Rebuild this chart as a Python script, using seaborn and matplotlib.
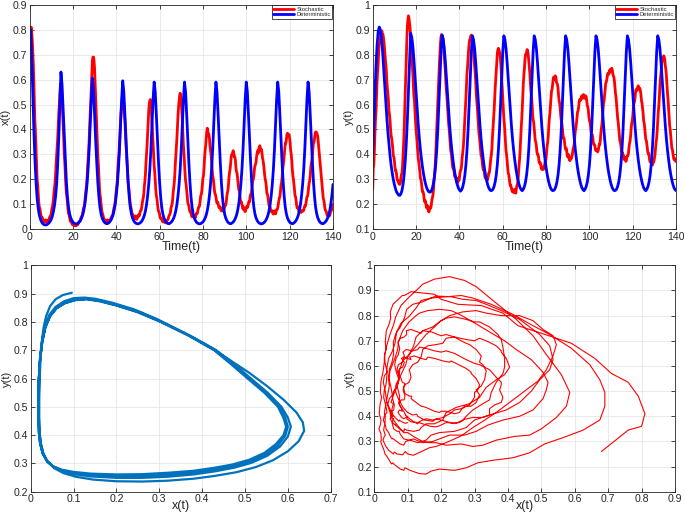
import numpy as np
import pandas as pd
import matplotlib
matplotlib.use("Agg")
import matplotlib.pyplot as plt
import seaborn as sns
from matplotlib.ticker import MultipleLocator, FuncFormatter

# time grids
t_det = np.arange(0, 140.5, 0.5)
t_sto = np.arange(0, 140.25, 0.25)

# deterministic x(t), y(t) (step 0.5)
x_det = [
    0.80, 0.80, 0.70, 0.55, 0.40, 0.28, 0.19, 0.125, 0.085, 0.058, 0.042, 0.031, 0.024, 0.02, 0.018,
    0.018, 0.019, 0.022, 0.026, 0.032, 0.04, 0.052, 0.07, 0.095, 0.13, 0.18, 0.26, 0.37, 0.50,
    0.63, 0.58, 0.48, 0.37, 0.275, 0.19, 0.13, 0.088, 0.062, 0.046, 0.036, 0.029, 0.025, 0.023, 0.022,
    0.023, 0.026, 0.03, 0.036, 0.045, 0.057, 0.075, 0.10, 0.135, 0.18, 0.24, 0.32, 0.42, 0.52,
    0.605, 0.56, 0.465, 0.36, 0.27, 0.19, 0.13, 0.088, 0.062, 0.046, 0.036, 0.029, 0.025, 0.023,
    0.023, 0.026, 0.03, 0.036, 0.045, 0.057, 0.075, 0.10, 0.135, 0.18, 0.24, 0.32, 0.42, 0.52,
    0.595, 0.55, 0.46, 0.36, 0.27, 0.19, 0.13, 0.088, 0.062, 0.046, 0.036, 0.029, 0.025, 0.023, 0.022,
    0.023, 0.026, 0.03, 0.036, 0.045, 0.057, 0.075, 0.10, 0.135, 0.18, 0.24, 0.32, 0.42, 0.52,
    0.59, 0.55, 0.46, 0.36, 0.27, 0.19, 0.13, 0.088, 0.062, 0.046, 0.036, 0.029, 0.025, 0.023,
    0.023, 0.026, 0.03, 0.036, 0.045, 0.057, 0.075, 0.10, 0.135, 0.18, 0.24, 0.32, 0.42, 0.52,
    0.59, 0.55, 0.46, 0.36, 0.27, 0.19, 0.13, 0.088, 0.062, 0.046, 0.036, 0.029, 0.025, 0.023, 0.022,
    0.023, 0.026, 0.03, 0.036, 0.045, 0.057, 0.075, 0.10, 0.135, 0.18, 0.24, 0.32, 0.42, 0.52,
    0.59, 0.55, 0.46, 0.36, 0.27, 0.19, 0.13, 0.088, 0.062, 0.046, 0.036, 0.029, 0.025, 0.023,
    0.023, 0.026, 0.03, 0.036, 0.045, 0.057, 0.075, 0.10, 0.135, 0.18, 0.24, 0.32, 0.42, 0.52,
    0.59, 0.55, 0.46, 0.36, 0.27, 0.19, 0.13, 0.088, 0.062, 0.046, 0.036, 0.029, 0.025, 0.023, 0.022,
    0.023, 0.026, 0.03, 0.036, 0.045, 0.057, 0.075, 0.10, 0.135, 0.18, 0.24, 0.32, 0.42, 0.52,
    0.59, 0.55, 0.46, 0.36, 0.27, 0.19, 0.13, 0.088, 0.062, 0.046, 0.036, 0.029, 0.025, 0.023,
    0.023, 0.026, 0.03, 0.036, 0.045, 0.057, 0.075, 0.10, 0.135, 0.18, 0.24, 0.32, 0.42, 0.52,
    0.59, 0.55, 0.46, 0.36, 0.27, 0.19, 0.13, 0.088, 0.062, 0.046, 0.036, 0.029, 0.025, 0.023,
    0.023, 0.026, 0.03, 0.036, 0.045, 0.057, 0.075, 0.10, 0.135, 0.18,
]
y_det = [
    0.40, 0.52, 0.64, 0.75, 0.835, 0.89, 0.91, 0.90, 0.87, 0.82, 0.755, 0.685, 0.615, 0.55, 0.49,
    0.44, 0.395, 0.357, 0.326, 0.30, 0.28, 0.263, 0.25, 0.243, 0.237, 0.236, 0.242, 0.256, 0.28,
    0.318, 0.372, 0.445, 0.54, 0.65, 0.77,
    0.885, 0.87, 0.835, 0.78, 0.715, 0.648, 0.582, 0.52, 0.466, 0.42, 0.381, 0.347, 0.319, 0.296,
    0.278, 0.264, 0.255, 0.25, 0.249, 0.253, 0.264, 0.283, 0.311, 0.353, 0.413, 0.493, 0.595, 0.705, 0.805,
    0.878, 0.862, 0.827, 0.772, 0.707, 0.641, 0.576, 0.516, 0.463, 0.418, 0.38, 0.347, 0.32, 0.297,
    0.28, 0.266, 0.258, 0.253, 0.258, 0.269, 0.288, 0.316, 0.358, 0.418, 0.498, 0.598, 0.708, 0.808,
    0.875, 0.86, 0.825, 0.77, 0.705, 0.64, 0.575, 0.515, 0.462, 0.418, 0.38, 0.347, 0.32, 0.298,
    0.28, 0.267, 0.259, 0.255, 0.256, 0.261, 0.272, 0.29, 0.318, 0.36, 0.42, 0.50, 0.60, 0.71, 0.81,
    0.875, 0.86, 0.825, 0.77, 0.705, 0.64, 0.575, 0.515, 0.462, 0.418, 0.38, 0.347, 0.32, 0.298,
    0.28, 0.267, 0.259, 0.255, 0.261, 0.272, 0.29, 0.318, 0.36, 0.42, 0.50, 0.60, 0.71, 0.81,
    0.875, 0.86, 0.825, 0.77, 0.705, 0.64, 0.575, 0.515, 0.462, 0.418, 0.38, 0.347, 0.32, 0.298,
    0.28, 0.267, 0.259, 0.255, 0.256, 0.261, 0.272, 0.29, 0.318, 0.36, 0.42, 0.50, 0.60, 0.71, 0.81,
    0.875, 0.86, 0.825, 0.77, 0.705, 0.64, 0.575, 0.515, 0.462, 0.418, 0.38, 0.347, 0.32, 0.298,
    0.28, 0.267, 0.259, 0.255, 0.261, 0.272, 0.29, 0.318, 0.36, 0.42, 0.50, 0.60, 0.71, 0.81,
    0.875, 0.86, 0.825, 0.77, 0.705, 0.64, 0.575, 0.515, 0.462, 0.418, 0.38, 0.347, 0.32, 0.298,
    0.28, 0.267, 0.259, 0.255, 0.256, 0.261, 0.272, 0.29, 0.318, 0.36, 0.42, 0.50, 0.60, 0.71, 0.81,
    0.875, 0.86, 0.825, 0.77, 0.705, 0.64, 0.575, 0.515, 0.462, 0.418, 0.38, 0.347, 0.32, 0.298,
    0.28, 0.267, 0.259, 0.255, 0.261, 0.272, 0.29, 0.318, 0.36, 0.42, 0.50, 0.60, 0.71, 0.81,
    0.875, 0.86, 0.825, 0.77, 0.705, 0.64, 0.575, 0.515, 0.462, 0.418, 0.38, 0.347, 0.32, 0.298,
    0.28, 0.267, 0.259, 0.255,
]

# stochastic x(t), y(t) (step 0.25)
x_sto = [
    0.68, 0.76, 0.80, 0.81, 0.79, 0.76, 0.71, 0.66, 0.59, 0.50, 0.43, 0.385, 0.32, 0.25, 0.20, 0.18, 0.145, 0.11, 0.09, 0.084,
    0.072, 0.056, 0.048, 0.049, 0.044, 0.036, 0.033, 0.035, 0.031, 0.032, 0.038, 0.03, 0.027, 0.033, 0.035, 0.036, 0.041, 0.048, 0.052, 0.055,
    0.063, 0.078, 0.088, 0.1, 0.117, 0.144, 0.165, 0.185, 0.215, 0.26, 0.295, 0.325, 0.365, 0.42, 0.465, 0.5, 0.545, 0.575, 0.585, 0.56,
    0.515, 0.475, 0.425, 0.36, 0.305, 0.27, 0.225, 0.18, 0.145, 0.13, 0.105, 0.08, 0.064, 0.058, 0.047, 0.036, 0.03, 0.03, 0.026, 0.02,
    0.018, 0.022, 0.017, 0.015, 0.02, 0.019, 0.014, 0.02, 0.021, 0.019, 0.023, 0.029, 0.032, 0.032, 0.038, 0.047, 0.052, 0.055, 0.063, 0.078,
    0.088, 0.092, 0.107, 0.135, 0.155, 0.17, 0.195, 0.24, 0.275, 0.31, 0.355, 0.415, 0.465, 0.51, 0.565, 0.625, 0.675, 0.69, 0.69, 0.675,
    0.645, 0.59, 0.525, 0.475, 0.415, 0.35, 0.295, 0.26, 0.215, 0.17, 0.14, 0.125, 0.103, 0.08, 0.067, 0.062, 0.053, 0.043, 0.038, 0.038,
    0.035, 0.03, 0.028, 0.035, 0.038, 0.031, 0.027, 0.034, 0.036, 0.038, 0.043, 0.05, 0.053, 0.055, 0.062, 0.077, 0.088, 0.094, 0.107, 0.13,
    0.155, 0.17, 0.195, 0.24, 0.275, 0.3, 0.345, 0.395, 0.435, 0.47, 0.495, 0.525, 0.535, 0.525, 0.495, 0.47, 0.435, 0.38, 0.335, 0.305,
    0.265, 0.23, 0.185, 0.17, 0.145, 0.115, 0.097, 0.09, 0.078, 0.065, 0.057, 0.058, 0.053, 0.046, 0.043, 0.05, 0.054, 0.045, 0.04, 0.047,
    0.05, 0.058, 0.053, 0.058, 0.068, 0.075, 0.077, 0.088, 0.104, 0.118, 0.126, 0.145, 0.175, 0.195, 0.225, 0.27, 0.305, 0.34, 0.385, 0.435,
    0.475, 0.505, 0.515, 0.52, 0.505, 0.47, 0.425, 0.39, 0.345, 0.295, 0.255, 0.23, 0.195, 0.16, 0.135, 0.125, 0.104, 0.085, 0.072, 0.07,
    0.06, 0.047, 0.043, 0.045, 0.04, 0.034, 0.03, 0.033, 0.032, 0.028, 0.033, 0.03, 0.026, 0.033, 0.037, 0.038, 0.043, 0.052, 0.057, 0.06,
    0.068, 0.085, 0.093, 0.1, 0.117, 0.145, 0.165, 0.185, 0.215, 0.26, 0.295, 0.325, 0.365, 0.415, 0.455, 0.49, 0.515, 0.535, 0.545, 0.535,
    0.505, 0.475, 0.435, 0.38, 0.335, 0.305, 0.265, 0.225, 0.195, 0.18, 0.155, 0.13, 0.11, 0.1, 0.094, 0.08, 0.071, 0.07, 0.064, 0.055,
    0.05, 0.057, 0.054, 0.05, 0.056, 0.053, 0.047, 0.058, 0.064, 0.062, 0.067, 0.08, 0.089, 0.09, 0.097, 0.118, 0.135, 0.14, 0.155, 0.18,
    0.205, 0.215, 0.245, 0.285, 0.315, 0.335, 0.365, 0.39, 0.405, 0.395, 0.38, 0.38, 0.365, 0.335, 0.315, 0.3, 0.275, 0.24, 0.215, 0.205,
    0.185, 0.16, 0.145, 0.14, 0.13, 0.115, 0.105, 0.11, 0.104, 0.092, 0.086, 0.092, 0.089, 0.08, 0.074, 0.082, 0.084, 0.075, 0.071, 0.082,
    0.089, 0.1, 0.097, 0.11, 0.13, 0.145, 0.155, 0.175, 0.205, 0.226, 0.24, 0.26, 0.285, 0.3, 0.3, 0.31, 0.315, 0.305, 0.29, 0.29,
    0.275, 0.245, 0.23, 0.225, 0.205, 0.18, 0.16, 0.155, 0.14, 0.12, 0.106, 0.11, 0.099, 0.088, 0.081, 0.09, 0.085, 0.076, 0.071, 0.08,
    0.084, 0.092, 0.087, 0.092, 0.105, 0.112, 0.11, 0.13, 0.14, 0.142, 0.155, 0.18, 0.195, 0.2, 0.215, 0.24, 0.255, 0.26, 0.27, 0.29,
    0.305, 0.315, 0.305, 0.32, 0.33, 0.335, 0.325, 0.315, 0.32, 0.305, 0.285, 0.275, 0.26, 0.24, 0.215, 0.2, 0.19, 0.172, 0.145, 0.14,
    0.13, 0.11, 0.096, 0.097, 0.089, 0.078, 0.071, 0.076, 0.072, 0.065, 0.061, 0.066, 0.074, 0.066, 0.062, 0.07, 0.079, 0.08, 0.086, 0.1,
    0.115, 0.127, 0.13, 0.15, 0.175, 0.185, 0.205, 0.235, 0.255, 0.27, 0.295, 0.325, 0.345, 0.345, 0.36, 0.38, 0.385, 0.375, 0.38, 0.38,
    0.365, 0.345, 0.315, 0.3, 0.275, 0.24, 0.215, 0.2, 0.18, 0.155, 0.135, 0.13, 0.115, 0.095, 0.086, 0.09, 0.084, 0.072, 0.068, 0.073,
    0.072, 0.068, 0.071, 0.076, 0.074, 0.073, 0.077, 0.088, 0.094, 0.093, 0.101, 0.118, 0.13, 0.133, 0.145, 0.168, 0.185, 0.195, 0.215, 0.245,
    0.265, 0.275, 0.295, 0.325, 0.345, 0.35, 0.365, 0.385, 0.39, 0.39, 0.385, 0.38, 0.37, 0.345, 0.315, 0.3, 0.275, 0.24, 0.215, 0.2,
    0.175, 0.145, 0.125, 0.118, 0.104, 0.085, 0.076, 0.074, 0.068, 0.058, 0.054, 0.06, 0.058, 0.053, 0.056, 0.066, 0.074, 0.075, 0.082, 0.093,
    0.10,
]
y_sto = [
    0.26, 0.345, 0.36, 0.41, 0.48, 0.535, 0.57, 0.63, 0.69, 0.73, 0.76, 0.81, 0.84, 0.845, 0.865, 0.885, 0.89, 0.895,
    0.88, 0.88, 0.865, 0.845, 0.815, 0.79, 0.765, 0.74, 0.695, 0.665, 0.645, 0.615, 0.575, 0.56, 0.535, 0.5, 0.475, 0.465, 0.445, 0.425,
    0.395, 0.39, 0.375, 0.35, 0.335, 0.335, 0.32, 0.3, 0.295, 0.295, 0.285, 0.29, 0.28, 0.285, 0.305, 0.32, 0.325, 0.35, 0.395, 0.44,
    0.495, 0.565, 0.645, 0.72, 0.785, 0.855, 0.915, 0.94, 0.955, 0.945, 0.925, 0.905, 0.875, 0.84, 0.795, 0.765, 0.725, 0.675, 0.635, 0.615,
    0.575, 0.54, 0.495, 0.475, 0.445, 0.41, 0.385, 0.37, 0.35, 0.33, 0.305, 0.3, 0.285, 0.265, 0.25, 0.25, 0.24, 0.22, 0.21, 0.215,
    0.205, 0.19, 0.185, 0.195, 0.185, 0.172, 0.17, 0.182, 0.19, 0.185, 0.195, 0.215, 0.225, 0.235, 0.255, 0.29, 0.315, 0.345, 0.385, 0.44,
    0.495, 0.545, 0.605, 0.67, 0.725, 0.76, 0.805, 0.845, 0.87, 0.88, 0.875, 0.87, 0.86, 0.83, 0.795, 0.77, 0.735, 0.69, 0.655, 0.63,
    0.595, 0.565, 0.525, 0.505, 0.475, 0.44, 0.415, 0.405, 0.385, 0.36, 0.345, 0.345, 0.335, 0.315, 0.31, 0.312, 0.305, 0.29, 0.285, 0.3,
    0.305, 0.295, 0.305, 0.325, 0.335, 0.34, 0.355, 0.385, 0.405, 0.425, 0.455, 0.5, 0.545, 0.585, 0.625, 0.68, 0.725, 0.75, 0.785, 0.82,
    0.845, 0.86, 0.865, 0.875, 0.878, 0.87, 0.855, 0.845, 0.825, 0.79, 0.755, 0.73, 0.695, 0.65, 0.615, 0.59, 0.555, 0.515, 0.485, 0.47,
    0.445, 0.415, 0.395, 0.39, 0.375, 0.35, 0.34, 0.34, 0.33, 0.31, 0.305, 0.31, 0.305, 0.295, 0.3, 0.31, 0.325, 0.325, 0.34, 0.365,
    0.385, 0.4, 0.425, 0.47, 0.505, 0.535, 0.575, 0.625, 0.665, 0.7, 0.735, 0.775, 0.805, 0.82, 0.825, 0.82, 0.81, 0.8, 0.775, 0.74,
    0.695, 0.665, 0.625, 0.58, 0.545, 0.52, 0.485, 0.445, 0.415, 0.4, 0.375, 0.345, 0.325, 0.32, 0.305, 0.285, 0.275, 0.275, 0.265, 0.255,
    0.25, 0.258, 0.25, 0.247, 0.26, 0.25, 0.245, 0.262, 0.275, 0.28, 0.295, 0.322, 0.355, 0.38, 0.415, 0.465, 0.505, 0.54, 0.585, 0.64,
    0.685, 0.72, 0.745, 0.78, 0.8, 0.8, 0.81, 0.82, 0.815, 0.8, 0.775, 0.755, 0.725, 0.685, 0.655, 0.635, 0.605, 0.565, 0.54, 0.53,
    0.505, 0.475, 0.455, 0.45, 0.435, 0.41, 0.4, 0.4, 0.39, 0.37, 0.365, 0.368, 0.36, 0.345, 0.34, 0.35, 0.345, 0.34, 0.345, 0.355,
    0.37, 0.37, 0.385, 0.415, 0.435, 0.45, 0.475, 0.515, 0.545, 0.565, 0.595, 0.63, 0.655, 0.66, 0.68, 0.7, 0.71, 0.7, 0.705, 0.715,
    0.71, 0.69, 0.685, 0.68, 0.665, 0.635, 0.615, 0.605, 0.585, 0.555, 0.535, 0.525, 0.505, 0.48, 0.465, 0.465, 0.45, 0.43, 0.42, 0.425,
    0.415, 0.395, 0.39, 0.4, 0.39, 0.378, 0.375, 0.385, 0.39, 0.385, 0.395, 0.41, 0.425, 0.43, 0.445, 0.475, 0.495, 0.505, 0.525, 0.55,
    0.57, 0.575, 0.59, 0.61, 0.62, 0.615, 0.62, 0.63, 0.635, 0.625, 0.63, 0.64, 0.635, 0.625, 0.63, 0.635, 0.63, 0.615, 0.595, 0.59,
    0.575, 0.55, 0.535, 0.53, 0.515, 0.49, 0.48, 0.48, 0.47, 0.45, 0.44, 0.44, 0.435, 0.42, 0.415, 0.42, 0.42, 0.41, 0.415, 0.425,
    0.44, 0.44, 0.455, 0.485, 0.505, 0.52, 0.545, 0.58, 0.605, 0.615, 0.64, 0.665, 0.685, 0.69, 0.7, 0.715, 0.725, 0.72, 0.725, 0.735,
    0.74, 0.73, 0.735, 0.745, 0.74, 0.725, 0.715, 0.71, 0.695, 0.67, 0.645, 0.63, 0.605, 0.575, 0.545, 0.53, 0.505, 0.475, 0.455, 0.45,
    0.435, 0.415, 0.405, 0.408, 0.4, 0.385, 0.38, 0.39, 0.383, 0.372, 0.375, 0.388, 0.395, 0.395, 0.405, 0.43, 0.445, 0.455, 0.475, 0.505,
    0.525, 0.535, 0.555, 0.585, 0.605, 0.61, 0.625, 0.65, 0.66, 0.655, 0.66, 0.67, 0.675, 0.665, 0.66, 0.665, 0.655, 0.64, 0.615, 0.605,
    0.585, 0.565, 0.535, 0.525, 0.505, 0.48, 0.46, 0.455, 0.44, 0.42, 0.405, 0.405, 0.395, 0.378, 0.37, 0.375, 0.37, 0.36, 0.358, 0.362,
    0.375, 0.372, 0.385, 0.4, 0.425, 0.45, 0.465, 0.495, 0.535, 0.57, 0.595, 0.63, 0.675, 0.705, 0.725, 0.755, 0.775, 0.775, 0.785, 0.795,
    0.79, 0.78, 0.755, 0.74, 0.715, 0.68, 0.645, 0.62, 0.585, 0.545, 0.515, 0.5, 0.475, 0.445, 0.425, 0.42, 0.405, 0.39, 0.38, 0.385,
    0.378, 0.372, 0.375,
]

# deterministic phase portrait (other start point, spiralling onto the cycle)
px_det = [
    0.096, 0.075, 0.058, 0.045, 0.036, 0.03, 0.026, 0.023, 0.021, 0.02, 0.02, 0.021, 0.024, 0.03,
    0.04, 0.055, 0.076, 0.105, 0.145, 0.2, 0.26, 0.32, 0.38, 0.43, 0.48, 0.525, 0.565, 0.6, 0.625,
    0.638, 0.635, 0.62, 0.59, 0.55, 0.51, 0.465, 0.42, 0.36, 0.295, 0.24, 0.19, 0.15, 0.125, 0.1,
    0.078, 0.058, 0.044, 0.034, 0.027, 0.022, 0.02, 0.019,
    0.019, 0.02, 0.023, 0.029, 0.039, 0.054, 0.074, 0.102, 0.14, 0.2, 0.26, 0.32, 0.38, 0.43, 0.475,
    0.515, 0.552, 0.582, 0.6, 0.607, 0.6, 0.585, 0.553, 0.514, 0.475, 0.433, 0.374, 0.306, 0.252,
    0.2, 0.16, 0.13, 0.105, 0.08, 0.06, 0.045, 0.034, 0.027, 0.022, 0.019, 0.018,
    0.018, 0.019, 0.022, 0.028, 0.038, 0.053, 0.073, 0.1, 0.14, 0.2, 0.26, 0.32, 0.38, 0.43, 0.472,
    0.512, 0.548, 0.577, 0.594, 0.6, 0.594, 0.58, 0.548, 0.509, 0.471, 0.43, 0.372, 0.305, 0.251,
    0.2, 0.16, 0.13, 0.105, 0.08, 0.06, 0.045, 0.034, 0.027, 0.022, 0.019, 0.018,
    0.018, 0.019, 0.022, 0.028, 0.038, 0.052, 0.072, 0.1, 0.14, 0.2, 0.26, 0.32, 0.38, 0.43, 0.47,
    0.51, 0.545, 0.572, 0.59, 0.596, 0.59, 0.577, 0.545, 0.506, 0.468, 0.428, 0.37, 0.303, 0.25,
    0.2, 0.16, 0.13, 0.105, 0.08, 0.06, 0.045, 0.034, 0.027, 0.022, 0.019, 0.018, 0.018,
]
py_det = [
    0.903, 0.895, 0.88, 0.855, 0.82, 0.78, 0.73, 0.67, 0.6, 0.53, 0.46, 0.41, 0.37, 0.333,
    0.305, 0.283, 0.266, 0.253, 0.243, 0.237, 0.236, 0.239, 0.246, 0.256, 0.269, 0.287, 0.311, 0.343, 0.378,
    0.415, 0.445, 0.48, 0.525, 0.575, 0.62, 0.665, 0.71, 0.76, 0.81, 0.845, 0.868, 0.882, 0.886, 0.884,
    0.873, 0.853, 0.826, 0.79, 0.74, 0.68, 0.61, 0.54,
    0.47, 0.415, 0.372, 0.336, 0.308, 0.288, 0.274, 0.262, 0.254, 0.249, 0.249, 0.253, 0.261, 0.272, 0.285,
    0.302, 0.327, 0.36, 0.395, 0.43, 0.462, 0.5, 0.55, 0.6, 0.65, 0.7, 0.75, 0.8, 0.836,
    0.86, 0.876, 0.882, 0.879, 0.868, 0.849, 0.821, 0.781, 0.731, 0.671, 0.601, 0.531,
    0.462, 0.411, 0.37, 0.335, 0.307, 0.288, 0.275, 0.266, 0.259, 0.255, 0.256, 0.26, 0.268, 0.279, 0.291,
    0.308, 0.332, 0.364, 0.398, 0.43, 0.461, 0.5, 0.55, 0.6, 0.65, 0.7, 0.75, 0.8, 0.835,
    0.859, 0.875, 0.881, 0.878, 0.867, 0.848, 0.82, 0.78, 0.73, 0.67, 0.6, 0.53,
    0.46, 0.41, 0.37, 0.335, 0.308, 0.29, 0.278, 0.27, 0.264, 0.261, 0.262, 0.267, 0.274, 0.285, 0.296,
    0.313, 0.337, 0.368, 0.4, 0.43, 0.46, 0.5, 0.55, 0.6, 0.65, 0.7, 0.75, 0.8, 0.834,
    0.858, 0.873, 0.88, 0.877, 0.866, 0.848, 0.82, 0.78, 0.73, 0.67, 0.6, 0.53, 0.46,
]

assert len(x_det) == len(t_det) and len(y_det) == len(t_det), (len(x_det), len(y_det))
assert len(x_sto) == len(t_sto) and len(y_sto) == len(t_sto), (len(x_sto), len(y_sto))
assert len(px_det) == len(py_det), (len(px_det), len(py_det))

det = pd.DataFrame({"t": t_det, "x": x_det, "y": y_det})
sto = pd.DataFrame({"t": t_sto, "x": x_sto, "y": y_sto})

sns.set_style("whitegrid")
plt.rcParams["font.family"] = ["Liberation Sans", "DejaVu Sans"]

fig = plt.figure(figsize=(6.85, 5.12), dpi=100)
ax1 = fig.add_axes([0.0431, 0.552, 0.443, 0.439])
ax2 = fig.add_axes([0.5441, 0.552, 0.443, 0.439])
ax3 = fig.add_axes([0.0448, 0.0396, 0.438, 0.4422])
ax4 = fig.add_axes([0.5464, 0.0396, 0.439, 0.4422])

fmt = FuncFormatter(lambda v, p: f"{v:g}")


def style(ax, xlim, ylim, xstep, ystep, xlabel, ylabel, xlab_y):
    ax.set_xlim(*xlim)
    ax.set_ylim(*ylim)
    ax.xaxis.set_major_locator(MultipleLocator(xstep))
    ax.yaxis.set_major_locator(MultipleLocator(ystep))
    ax.xaxis.set_major_formatter(fmt)
    ax.yaxis.set_major_formatter(fmt)
    ax.tick_params(direction="in", top=True, right=True, bottom=True, left=True,
                   length=3, width=0.6, color="#262626", labelsize=7.6, pad=1.8)
    ax.grid(True, color="#e6e6e6", lw=0.6)
    for s in ax.spines.values():
        s.set_color("#262626")
        s.set_linewidth(0.6)
    ax.set_xlabel(xlabel, fontsize=9)
    ax.set_ylabel(ylabel, fontsize=8)
    ax.xaxis.set_label_coords(0.5, xlab_y)
    ax.yaxis.set_label_coords(-0.063, 0.5)


# top panels: time series
for ax, col in [(ax1, "x"), (ax2, "y")]:
    sns.lineplot(data=sto, x="t", y=col, color="red", lw=2.0, ax=ax, label="Stochastic")
    sns.lineplot(data=det, x="t", y=col, color="blue", lw=2.0, ax=ax, label="Deterministic")
    ax.legend(loc="upper right", fontsize=4.2, frameon=True, fancybox=False, framealpha=1,
              edgecolor="black", borderpad=0.25, handlelength=3.6, labelspacing=0.05,
              borderaxespad=0.12, handletextpad=0.4)
    ax.get_legend().get_frame().set_linewidth(0.5)

style(ax1, (0, 140), (0, 0.9), 20, 0.1, "Time(t)", "x(t)", -0.05)
style(ax2, (0, 140), (0.1, 1.0), 20, 0.1, "Time(t)", "y(t)", -0.05)

# bottom panels: phase portraits
sns.lineplot(x=px_det, y=py_det, sort=False, estimator=None, color="#0072BD", lw=1.6, ax=ax3)
sns.lineplot(x=x_sto, y=y_sto, sort=False, estimator=None, color="red", lw=0.8, ax=ax4)

style(ax3, (0, 0.7), (0.2, 1.0), 0.1, 0.1, "x(t)", "y(t)", -0.035)
style(ax4, (0, 0.9), (0.1, 1.0), 0.1, 0.1, "x(t)", "y(t)", -0.035)

plt.savefig("out.png", dpi=100)
